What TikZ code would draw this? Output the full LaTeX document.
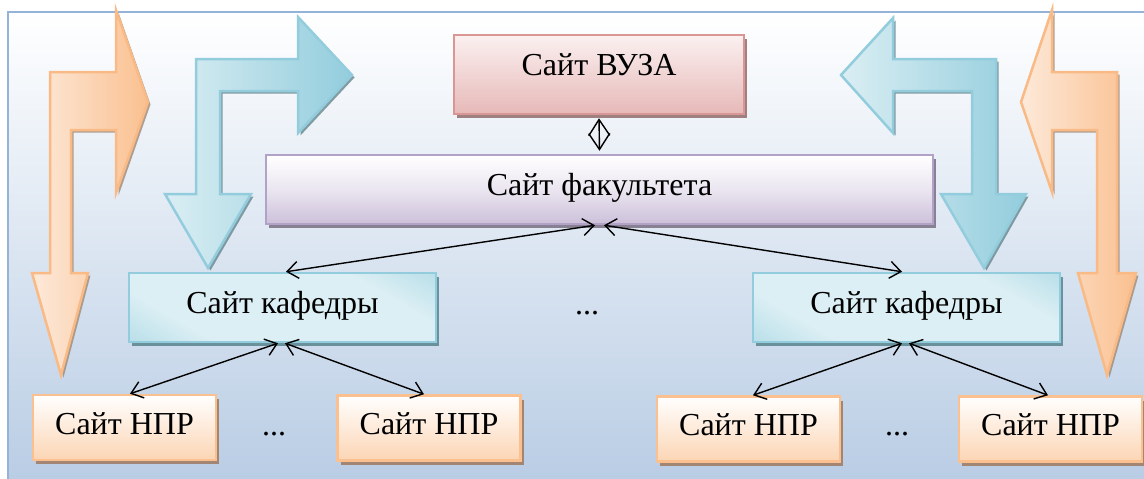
\documentclass[tikz,border=0pt]{standalone}
\usepackage{fontspec}
\setmainfont{Liberation Serif}
\newfontfamily\tnr{Liberation Serif}
\usetikzlibrary{arrows.meta,shadows}
\definecolor{frameC}{HTML}{95B3D7}
\definecolor{bgBot}{HTML}{B8CCE4}
\definecolor{vuzB}{HTML}{D99694}
\definecolor{vuzT}{HTML}{FBF0F0}
\definecolor{vuzD}{HTML}{E6B9B8}
\definecolor{vuzS}{HTML}{977373}
\definecolor{facB}{HTML}{B3A2C7}
\definecolor{facD}{HTML}{CCC0DA}
\definecolor{facS}{HTML}{7F7689}
\definecolor{kafB}{HTML}{93CDDD}
\definecolor{kafL}{HTML}{DCEFF4}
\definecolor{kafD}{HTML}{93CDDD}
\definecolor{kafS}{HTML}{5F8A94}
\definecolor{nprB}{HTML}{FAC090}
\definecolor{nprD}{HTML}{FCD5B4}
\definecolor{nprS}{HTML}{A07E66}
\definecolor{orB}{HTML}{F9BA85}
\definecolor{orL}{HTML}{FDE9D9}
\definecolor{orD}{HTML}{FAC090}
\definecolor{orS}{HTML}{A08A78}
\definecolor{blB}{HTML}{93CDDD}
\definecolor{blL}{HTML}{DAEEF3}
\definecolor{blD}{HTML}{93CDDD}
\definecolor{blS}{HTML}{66868E}
\pgfdeclarehorizontalshading{kafshade}{100bp}{%
  color(0bp)=(kafD); color(30bp)=(kafL); color(70bp)=(kafL); color(100bp)=(kafD)}
\begin{document}
\begin{tikzpicture}[x=1pt,y=-1pt,
  box/.style={rectangle, line width=2.5pt, inner sep=0pt,
    font=\tnr\fontsize{32}{38}\selectfont, text height=22pt, text depth=11pt},
  vuzbox/.style={box, draw=vuzB, top color=vuzT, bottom color=vuzD,
    drop shadow={shadow xshift=3pt, shadow yshift=-4pt, fill=vuzS, opacity=.9},
    minimum width=290pt, minimum height=79pt, text depth=21pt},
  facbox/.style={box, draw=facB, top color=white, bottom color=facD, middle color=white!60!facD,
    drop shadow={shadow xshift=3pt, shadow yshift=-4pt, fill=facS, opacity=.9},
    minimum width=667pt, minimum height=69pt},
  kafbox/.style={box, draw=kafB, shading=kafshade, shading angle=60,
    drop shadow={shadow xshift=3pt, shadow yshift=-4pt, fill=kafS, opacity=.9},
    minimum width=307pt, minimum height=69pt},
  nprbox/.style={box, draw=nprB, top color=white, bottom color=nprD,
    drop shadow={shadow xshift=3pt, shadow yshift=-4pt, fill=nprS, opacity=.9},
    minimum width=183pt, minimum height=65pt, text depth=9pt},
  dots/.style={font=\tnr\fontsize{32}{38}\selectfont, inner sep=0pt, anchor=base},
  oarrow/.style={draw=orB, line width=2.5pt, left color=orL, right color=orD,
    drop shadow={shadow xshift=2.5pt, shadow yshift=-2.5pt, fill=orS, opacity=.8}},
  barrow/.style={draw=blB, line width=2.5pt, left color=blL, right color=blD,
    drop shadow={shadow xshift=2.5pt, shadow yshift=-2.5pt, fill=blS, opacity=.8}},
  conn/.style={draw=black, line width=1.4pt, >={Straight Barb[length=11pt,width=17pt]}, <->},
  diam/.style={draw=black, line width=1.4pt, >={Straight Barb[length=16pt,width=21pt]}, <->}
]
\useasboundingbox (0,0) rectangle (1144,479);
\clip (0,0) rectangle (1144,479);
% background
\path[draw=frameC, line width=2pt, top color=white, bottom color=bgBot] (8,12) rectangle (1152,488);

% block arrows
\path[oarrow] (61,375) -- (88,273) -- (71,273) -- (71,130) -- (116,130) -- (116,193) -- (148,102)
  -- (116,10) -- (116,72) -- (50,72) -- (50,273) -- (32,273) -- cycle;
\path[oarrow] (1107,375) -- (1136,273) -- (1117,273) -- (1117,72) -- (1052,72) -- (1052,10) -- (1021,102)
  -- (1052,192) -- (1052,130) -- (1097,130) -- (1097,273) -- (1078,273) -- cycle;
\path[barrow] (208,268) -- (251,194) -- (220,194) -- (220,91) -- (298,91) -- (298,133) -- (352,75)
  -- (298,17) -- (298,59) -- (196,59) -- (196,194) -- (165,194) -- cycle;
\path[barrow] (984,268) -- (1026,194) -- (996,194) -- (996,59) -- (893,59) -- (893,18) -- (841,75)
  -- (893,133) -- (893,91) -- (972,91) -- (972,194) -- (941,194) -- cycle;

% boxes
\node[vuzbox] (vuz) at (599,74.5) {Сайт ВУЗА};
\node[facbox] (fac) at (599.5,189.5) {Сайт факультета};
\node[kafbox] (kafL) at (282.5,307.5) {Сайт кафедры};
\node[kafbox] (kafR) at (906.5,307.5) {Сайт кафедры};
\node[nprbox] (npr1) at (124.5,427.5) {Сайт НПР};
\node[nprbox] (npr2) at (429,428) {Сайт НПР};
\node[nprbox] (npr3) at (748.5,429) {Сайт НПР};
\node[nprbox] (npr4) at (1050.5,429) {Сайт НПР};

% dots
\node[dots] (d1) at (274,435) {...};
\node[dots] (d2) at (587,314) {...};
\node[dots] (d3) at (897,435) {...};

% connectors
\draw[diam] ([yshift=-3pt]vuz.south) -- ([yshift=3pt]fac.north);
\draw[conn] ([xshift=-4.5pt]fac.south) -- ([xshift=3.5pt]kafL.north);
\draw[conn] ([xshift=4.5pt]fac.south) -- ([xshift=-4.5pt]kafR.north);
\draw[conn] ([xshift=-4.5pt]kafL.south) -- ([xshift=5.5pt]npr1.north);
\draw[conn] ([xshift=2.5pt]kafL.south) -- ([xshift=-5pt]npr2.north);
\draw[conn] ([xshift=-4.5pt]kafR.south) -- ([xshift=4.5pt]npr3.north);
\draw[conn] ([xshift=2.5pt]kafR.south) -- ([xshift=-2.5pt]npr4.north);
\end{tikzpicture}
\end{document}
